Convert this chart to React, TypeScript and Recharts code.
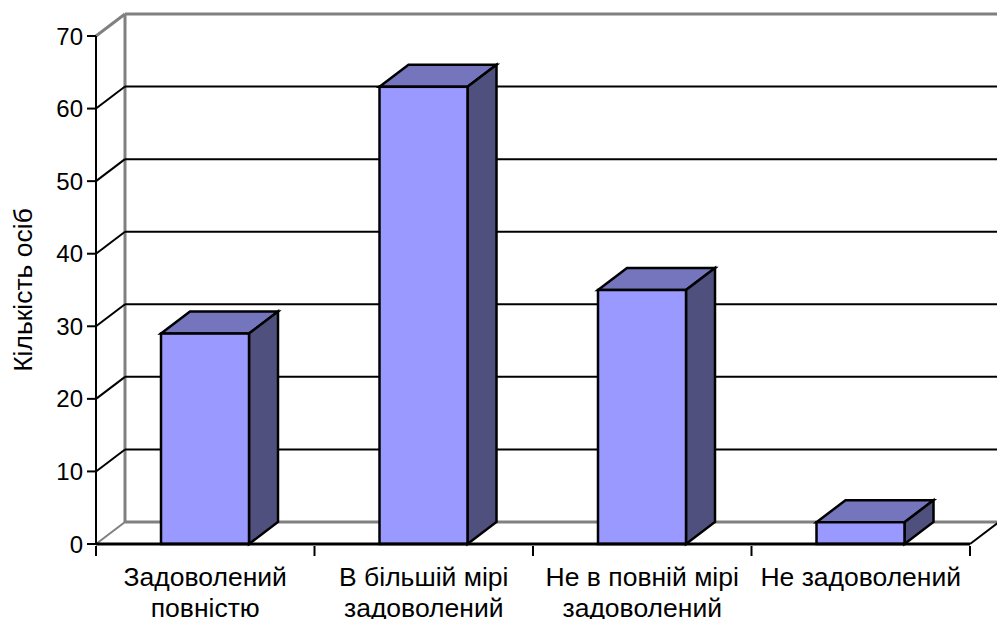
import React from 'react';
import { BarChart, Bar, XAxis, YAxis, CartesianGrid } from 'recharts';

const categories = [
  'Задоволений\nповністю',
  'В більшій мірі\nзадоволений',
  'Не в повній мірі\nзадоволений',
  'Не задоволений',
];
const values = [29, 63, 35, 3];
const yTicks = [0, 10, 20, 30, 40, 50, 60, 70];
const data = categories.map((name, i) => ({ name, value: values[i] }));

const FONT = '"Liberation Sans", Arial, sans-serif';
const DX = 29;
const DY = 22;
const BAND = 218.5;

const gridLine = (props: any) => {
  const { x1, x2, y1, y, height } = props;
  const isFloor = Math.abs(y1 - (y + height)) < 1;
  const isTop = Math.abs(y1 - y) < 1;
  const grey = isFloor || isTop;
  const color = grey ? '#808080' : '#000';
  const w = grey ? 3 : 2;
  return (
    <g key={props.key ?? y1}>
      {isFloor && <line x1={x1 + DX} y1={y1 - DY} x2={x1 + DX} y2={y - DY} stroke="#808080" strokeWidth={3} />}
      <line x1={x1} y1={y1} x2={x1 + DX} y2={y1 - DY} stroke={color} strokeWidth={grey && !isTop ? 2 : w} />
      <line x1={x1 + DX} y1={y1 - DY} x2={x2 + DX} y2={y1 - DY} stroke={color} strokeWidth={w} />
      {isFloor && <line x1={x2} y1={y1} x2={x2 + DX} y2={y1 - DY} stroke="#000" strokeWidth={2} />}
    </g>
  );
};

const Box3D = (props: any) => {
  const { x, y, width, height } = props;
  const top = `${x},${y} ${x + DX},${y - DY} ${x + width + DX},${y - DY} ${x + width},${y}`;
  const side = `${x + width},${y} ${x + width + DX},${y - DY} ${x + width + DX},${y + height - DY} ${x + width},${y + height}`;
  return (
    <g stroke="#000" strokeWidth={2.5} strokeLinejoin="miter">
      <polygon points={top} fill="#7575BD" />
      <polygon points={side} fill="#50507F" />
      <rect x={x} y={y} width={width} height={height} fill="#9999FF" />
    </g>
  );
};

const CategoryTick = (props: any) => {
  const { x, y, payload, index } = props;
  const lines = String(payload.value).split('\n');
  return (
    <g>
      <line x1={x - BAND / 2} y1={y - 6} x2={x - BAND / 2} y2={y + 4} stroke="#000" strokeWidth={2} />
      {index === categories.length - 1 && (
        <line x1={x + BAND / 2} y1={y - 6} x2={x + BAND / 2} y2={y + 4} stroke="#000" strokeWidth={2} />
      )}
      {lines.map((l, i) => (
        <text key={i} x={x} y={y + 34 + i * 31} textAnchor="middle" fontFamily={FONT} fontSize={26.5} fill="#000">
          {l}
        </text>
      ))}
    </g>
  );
};

export default function App() {
  return (
    <div style={{ position: 'absolute', left: 0, top: 0 }}>
      <BarChart
        width={997}
        height={619}
        data={data}
        barSize={88}
        margin={{ top: 36, right: 27, bottom: 0, left: 0 }}
      >
        <CartesianGrid vertical={false} horizontal={gridLine} />
        <XAxis
          dataKey="name"
          height={75}
          interval={0}
          tickLine={false}
          axisLine={{ stroke: '#000', strokeWidth: 3 }}
          tick={<CategoryTick />}
        />
        <YAxis
          width={96}
          domain={[0, 70]}
          ticks={yTicks}
          interval={0}
          tickSize={9}
          tickMargin={4}
          tickLine={{ stroke: '#000', strokeWidth: 2 }}
          axisLine={{ stroke: '#000', strokeWidth: 2 }}
          tick={{ fill: '#000', fontFamily: FONT, fontSize: 24 }}
          label={{
            value: 'Кількість осіб',
            angle: -90,
            position: 'insideLeft',
            offset: 0,
            dx: 23,
            textAnchor: 'middle',
            fill: '#000',
            fontFamily: FONT,
            fontSize: 26.5,
          }}
        />
        <Bar dataKey="value" shape={<Box3D />} isAnimationActive={false} />
      </BarChart>
    </div>
  );
}
